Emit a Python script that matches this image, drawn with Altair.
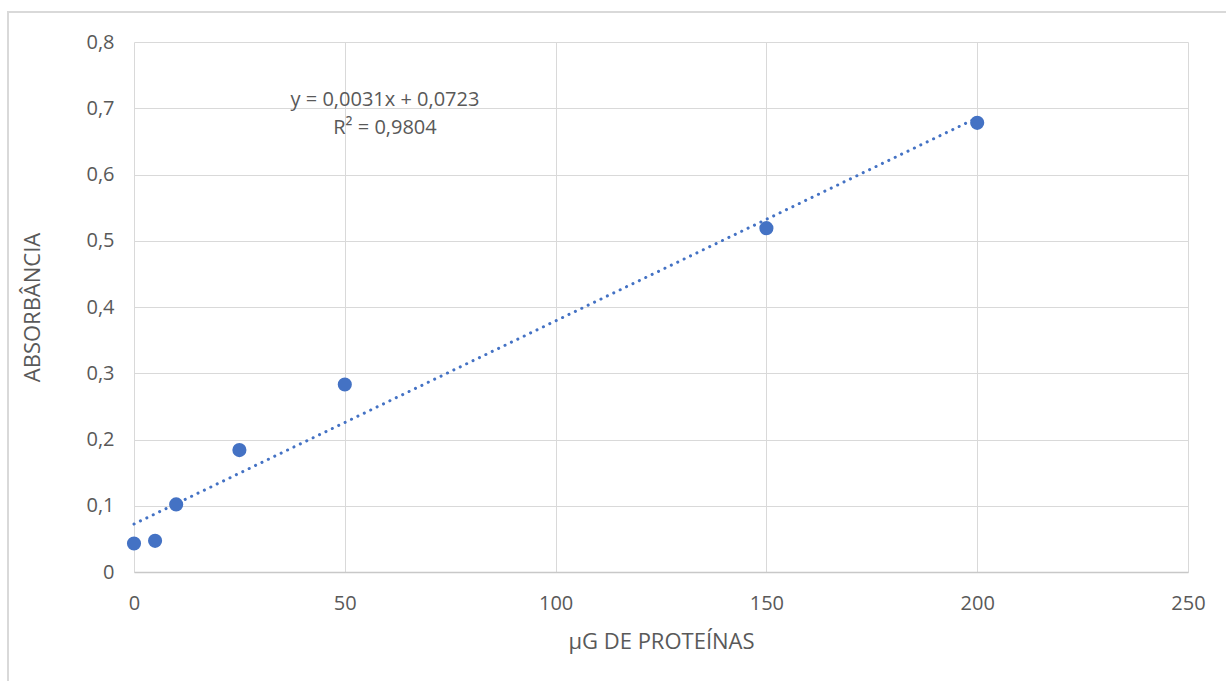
import altair as alt
import pandas as pd

protein_ug = [0, 5, 10, 25, 50, 150, 200]
absorbance = [0.043, 0.047, 0.102, 0.184, 0.283, 0.519, 0.678]
equation_lines = ["y = 0,0031x + 0,0723", "R² = 0,9804"]
x_ticks = [0, 50, 100, 150, 200, 250]
y_ticks = [0, 0.1, 0.2, 0.3, 0.4, 0.5, 0.6, 0.7, 0.8]

df = pd.DataFrame({"x": protein_ug, "y": absorbance})

FONT = "Open Sans"
GREY = "#595959"
BLUE = "#4472C4"
W, H = 1054, 530

xscale = alt.Scale(domain=[0, 250], nice=False, zero=True)
yscale = alt.Scale(domain=[0, 0.8], nice=False, zero=True)

xaxis = alt.Axis(
    values=x_ticks, title="µG DE PROTEÍNAS", grid=True, gridColor="#d9d9d9",
    domain=True, domainColor="#c8c8c8", domainWidth=1.5, ticks=False,
    labelPadding=21, labelFlush=False,
    labelFontSize=20, labelColor=GREY, labelFont=FONT,
    titleFontSize=22, titleColor=GREY, titleFont=FONT, titleFontWeight="normal",
    titlePadding=18,
)
yaxis = alt.Axis(
    values=y_ticks, title="ABSORBÂNCIA", grid=True, gridColor="#d9d9d9",
    domain=False, ticks=False, labelPadding=20, labelFlush=False,
    labelExpr="replace(format(datum.value, '.1~f'), '.', ',')",
    labelFontSize=20, labelColor=GREY, labelFont=FONT,
    titleFontSize=22, titleColor=GREY, titleFont=FONT, titleFontWeight="normal",
    titleX=-102, titleY=H / 2, titleAngle=-90, titleBaseline="middle",
    titleAlign="center",
)

base = alt.Chart(df)

frame = base.mark_rect(fill=None, stroke="#d9d9d9", strokeWidth=1.5).encode(
    x=alt.value(-126), x2=alt.value(W + 300), y=alt.value(-30), y2=alt.value(H + 130)
)

trend = base.transform_regression("x", "y", extent=[0, 200]).mark_line(
    color=BLUE, strokeWidth=3, strokeDash=[0.1, 7], strokeCap="round"
).encode(
    x=alt.X("x:Q", scale=xscale, axis=xaxis),
    y=alt.Y("y:Q", scale=yscale, axis=yaxis),
)

points = base.mark_point(filled=True, opacity=1, size=200, color=BLUE).encode(
    x=alt.X("x:Q", scale=xscale),
    y=alt.Y("y:Q", scale=yscale),
)

eq0 = alt.Chart(pd.DataFrame({"t": [equation_lines[0]]})).mark_text(
    fontSize=20, font=FONT, color=GREY, align="center", baseline="middle"
).encode(text="t:N", x=alt.value(251), y=alt.value(58))
eq1 = alt.Chart(pd.DataFrame({"t": [equation_lines[1]]})).mark_text(
    fontSize=20, font=FONT, color=GREY, align="center", baseline="middle"
).encode(text="t:N", x=alt.value(251), y=alt.value(86))

chart = alt.layer(frame, trend, points, eq0, eq1).properties(
    width=W, height=H,
    autosize=alt.AutoSizeParams(type="none"),
    padding={"left": 134, "top": 42, "right": 38, "bottom": 109},
    background="white",
).configure_view(stroke=None)

chart.save("out.html", embed_options={"renderer": "svg", "actions": False})
